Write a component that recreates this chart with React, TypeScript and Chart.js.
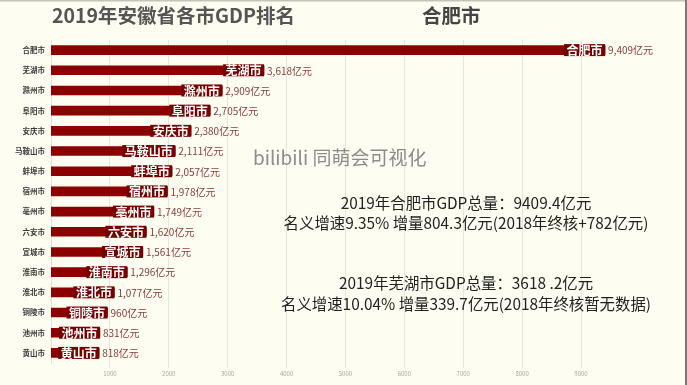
import React, { useEffect, useRef } from 'react';
import { Chart, registerables } from 'chart.js';

Chart.register(...registerables);

const cities = ['合肥市', '芜湖市', '滁州市', '阜阳市', '安庆市', '马鞍山市', '蚌埠市', '宿州市', '亳州市', '六安市', '宣城市', '淮南市', '淮北市', '铜陵市', '池州市', '黄山市'];
const gdp = [9409, 3618, 2909, 2705, 2380, 2111, 2057, 1978, 1749, 1620, 1561, 1296, 1077, 960, 831, 818];
const valueLabels = gdp.map((v) => v.toLocaleString('en-US') + '亿元');
const xTicks = [1000, 2000, 3000, 4000, 5000, 6000, 7000, 8000, 9000];
const titleText = '2019年安徽省各市GDP排名';
const leaderText = '合肥市';
const watermark = 'bilibili 同萌会可视化';
const infoLines = [
  '2019年合肥市GDP总量：9409.4亿元',
  '名义增速9.35% 增量804.3亿元(2018年终核+782亿元)',
  '2019年芜湖市GDP总量：3618 .2亿元',
  '名义增速10.04% 增量339.7亿元(2018年终核暂无数据)',
];

const FONT = '"Noto Sans CJK SC", "Noto Sans", sans-serif';
const W = 687;
const H = 385;

const decor = {
  id: 'decor',
  beforeDraw(chart: any) {
    const ctx = chart.ctx;
    ctx.save();
    ctx.fillStyle = '#fdfdf1';
    ctx.fillRect(0, 0, chart.width, chart.height);
    ctx.restore();
  },
  afterDatasetsDraw(chart: any) {
    const ctx = chart.ctx;
    const meta = chart.getDatasetMeta(0);
    ctx.save();
    meta.data.forEach((bar: any, i: number) => {
      const { x, y } = bar.getProps(['x', 'y'], true);
      ctx.font = `bold 12px ${FONT}`;
      const w = ctx.measureText(cities[i]).width;
      ctx.fillStyle = '#760000';
      ctx.fillRect(x - w - 5, y - 6, w + 5, 12);
      ctx.fillStyle = '#ffffff';
      ctx.textAlign = 'right';
      ctx.textBaseline = 'middle';
      ctx.fillText(cities[i], x - 2.5, y + 0.5);
      ctx.font = `10px ${FONT}`;
      ctx.fillStyle = '#8a3b3b';
      ctx.textAlign = 'left';
      ctx.fillText(valueLabels[i], x + 3, y + 0.5);
    });
    ctx.restore();
  },
  afterDraw(chart: any) {
    const ctx = chart.ctx;
    ctx.save();
    ctx.fillStyle = '#c4c4bc';
    ctx.fillRect(0, 0, W, 1.5);
    ctx.fillStyle = '#7a7a7a';
    ctx.fillRect(685, 0, 2, H);
    ctx.textBaseline = 'middle';
    ctx.textAlign = 'left';
    ctx.font = `bold 19.5px ${FONT}`;
    ctx.fillStyle = '#555555';
    ctx.fillText(titleText, 52, 16);
    ctx.fillStyle = '#444444';
    ctx.fillText(leaderText, 422, 16);
    ctx.font = `19px ${FONT}`;
    ctx.fillStyle = '#8c8c8c';
    ctx.fillText(watermark, 253, 158);
    ctx.textAlign = 'center';
    ctx.font = `15.4px ${FONT}`;
    ctx.fillStyle = '#222222';
    const ys = [203, 223, 283, 304];
    infoLines.forEach((t, i) => ctx.fillText(t, 466, ys[i]));
    ctx.restore();
  },
};

export default function App() {
  const ref = useRef<HTMLCanvasElement>(null);
  useEffect(() => {
    if (!ref.current) return;
    const chart = new Chart(ref.current, {
      type: 'bar',
      data: {
        labels: cities,
        datasets: [
          {
            data: gdp,
            backgroundColor: '#8b0000',
            barThickness: 9,
          },
        ],
      },
      options: {
        indexAxis: 'y',
        animation: false,
        responsive: false,
        layout: { padding: { top: 40, right: 53, left: 0, bottom: 0 } },
        plugins: { legend: { display: false }, tooltip: { enabled: false }, title: { display: false } },
        scales: {
          x: {
            min: 0,
            max: 9900,
            afterBuildTicks: (scale: any) => {
              scale.ticks = xTicks.map((v) => ({ value: v }));
            },
            afterFit: (scale: any) => {
              scale.height = 22;
            },
            grid: { color: '#e6e6da', lineWidth: 1, drawTicks: true, tickLength: 5 },
            border: { display: false },
            ticks: {
              font: { size: 6, family: FONT },
              color: '#a8a8a0',
              padding: 2,
              maxRotation: 0,
              callback: (v: any) => String(v),
            },
          },
          y: {
            afterFit: (scale: any) => {
              scale.width = 51;
            },
            grid: { display: false, drawTicks: false },
            border: { display: true, color: '#e2e2d6' },
            ticks: { font: { size: 7.5, family: FONT, weight: 'bold' }, color: '#3a3a3a', padding: 6 },
          },
        },
      },
      plugins: [decor],
    } as any);
    return () => chart.destroy();
  }, []);
  return (
    <div style={{ position: 'absolute', left: 0, top: 0, width: W, height: H }}>
      <canvas ref={ref} width={W} height={H} style={{ width: W, height: H, display: 'block' }} />
    </div>
  );
}
